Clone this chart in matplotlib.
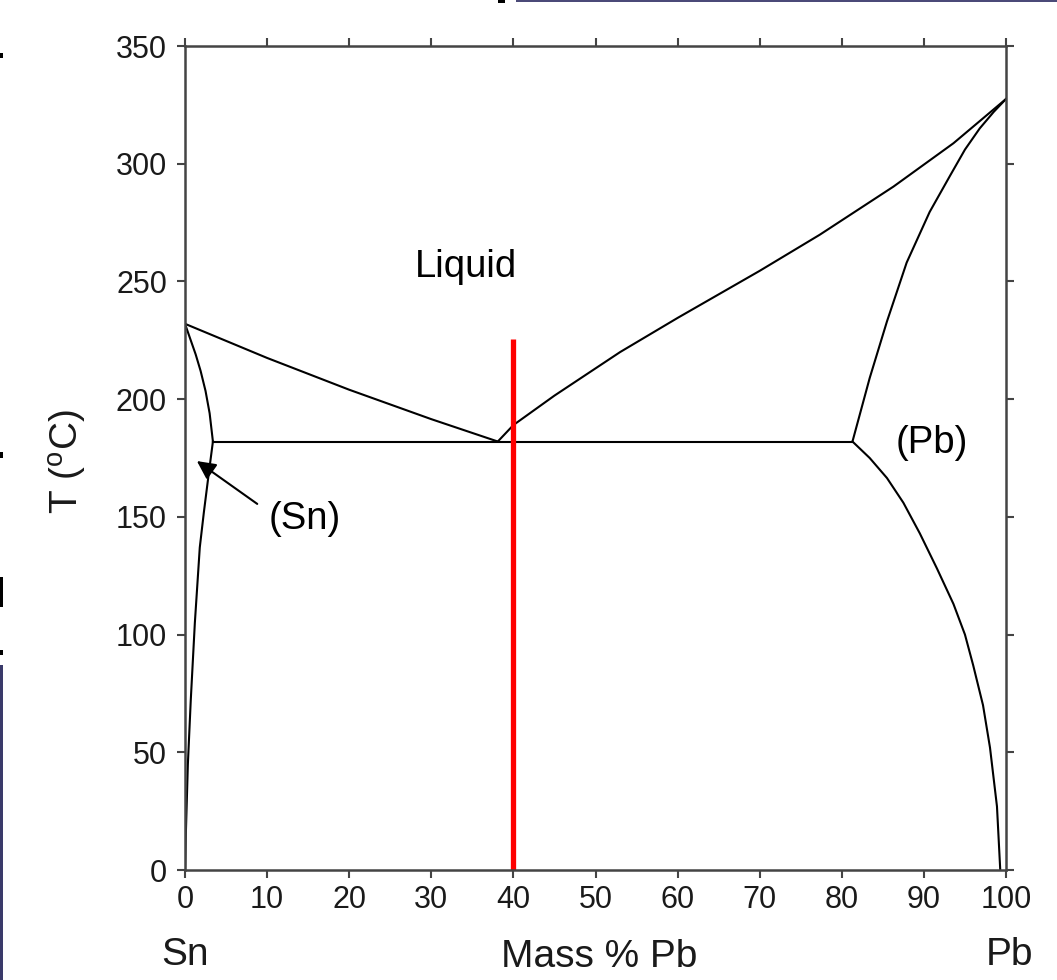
import matplotlib
matplotlib.use("Agg")
import matplotlib.pyplot as plt
from matplotlib.patches import Rectangle

plt.rcParams['font.family'] = ['Liberation Sans', 'DejaVu Sans']
plt.rcParams['mathtext.default'] = 'regular'

# phase boundaries (mass % Pb, T in C)
liq_sn_x = [0, 10, 20, 30, 38.1]
liq_sn_t = [232, 217.5, 204, 191.5, 182]
liq_pb_x = [38.1, 40, 45, 53, 60, 70, 77.3, 86.3, 93.6, 100]
liq_pb_t = [182, 189, 201.5, 220, 234.5, 254.5, 269.8, 290.3, 308.7, 327.5]
sol_pb_x = [100, 98.5, 96.8, 95.0, 93.2, 90.7, 87.9, 85.5, 83.4, 81.3]
sol_pb_t = [327.5, 322, 315, 306, 295, 279.5, 258, 233, 209, 182]
solv_pb_x = [81.3, 83.4, 85.5, 87.5, 89.5, 91.6, 93.6, 95.0, 96.0, 97.2, 98.05, 98.9, 99.3]
solv_pb_t = [182, 175, 166.5, 156, 143, 128, 113, 100, 87, 70, 52, 27, 0]
sol_sn_x = [0, 0.6, 1.3, 1.9, 2.5, 3.0, 3.4]
sol_sn_t = [232, 226, 219, 212, 203.5, 194, 182]
solv_sn_x = [3.4, 2.9, 2.3, 1.8, 1.2, 0.7, 0.35, 0.1, 0]
solv_sn_t = [182, 168.6, 152, 137, 105, 72, 45, 15, 0]
eutectic_x = [3.4, 81.3]
eutectic_t = [182, 182]
alloy_x = [40, 40]
alloy_t = [0, 225.6]

xticks = list(range(0, 101, 10))
yticks = list(range(0, 351, 50))

fig = plt.figure(figsize=(10.57, 9.8), dpi=100)
ax = fig.add_axes([185/1057, 110/980, 821/1057, 824/980])

for xs, ts in [(liq_sn_x, liq_sn_t), (liq_pb_x, liq_pb_t), (sol_pb_x, sol_pb_t),
               (solv_pb_x, solv_pb_t), (sol_sn_x, sol_sn_t), (solv_sn_x, solv_sn_t),
               (eutectic_x, eutectic_t)]:
    ax.plot(xs, ts, color='black', lw=1.5, solid_joinstyle='round')

ax.plot(alloy_x, alloy_t, color='red', lw=3.8, solid_capstyle='butt')

ax.text(34.2, 256, 'Liquid', fontsize=27.5, ha='center', va='center')
ax.text(91, 181.5, '(Pb)', fontsize=27.5, ha='center', va='center')
ax.text(14.6, 149, '(Sn)', fontsize=27.5, ha='center', va='center')
ax.annotate('', xy=(1.45, 173.7), xytext=(8.8, 155.5),
            arrowprops=dict(arrowstyle='-|>', color='black', lw=1.5,
                            mutation_scale=28, shrinkA=0, shrinkB=0))

ax.set_xlim(0, 100)
ax.set_ylim(0, 350)
ax.set_xticks(xticks)
ax.set_yticks(yticks)
ax.tick_params(direction='out', length=6, width=1.5, color='#444444',
               labelsize=22, labelcolor='#1a1a1a', top=True, right=True,
               labeltop=False, labelright=False)
ax.tick_params(axis='x', pad=5)
ax.tick_params(axis='y', pad=7)
for sp in ax.spines.values():
    sp.set_color('#444444')
    sp.set_linewidth(1.8)

ax.text(-0.142, 0.496, 'T ($^{o}$C)', transform=ax.transAxes, rotation=90,
        fontsize=28, ha='center', va='center', color='#1a1a1a')
ax.text(0, -0.103, 'Sn', transform=ax.get_xaxis_transform(), fontsize=28,
        ha='center', va='center', color='#1a1a1a')
ax.text(50.5, -0.105, 'Mass % Pb', transform=ax.get_xaxis_transform(), fontsize=28,
        ha='center', va='center', color='#1a1a1a')
ax.text(100.4, -0.103, 'Pb', transform=ax.get_xaxis_transform(), fontsize=28,
        ha='center', va='center', color='#1a1a1a')


# slide edge remnants around the picture
def px_rect(x, y, w, h, color):
    fig.add_artist(Rectangle((x/1057, 1 - (y + h)/980), w/1057, h/980,
                             transform=fig.transFigure, color=color, lw=0))

px_rect(516, 0, 541, 2, '#4b4a78')
px_rect(498, 0, 7, 3, 'black')
px_rect(0, 53, 3, 5, 'black')
px_rect(0, 452, 3, 6, 'black')
px_rect(0, 577, 3, 30, 'black')
px_rect(0, 650, 3, 5, 'black')
px_rect(0, 665, 3, 315, '#3a3a6a')

fig.savefig('out.png', dpi=100)
